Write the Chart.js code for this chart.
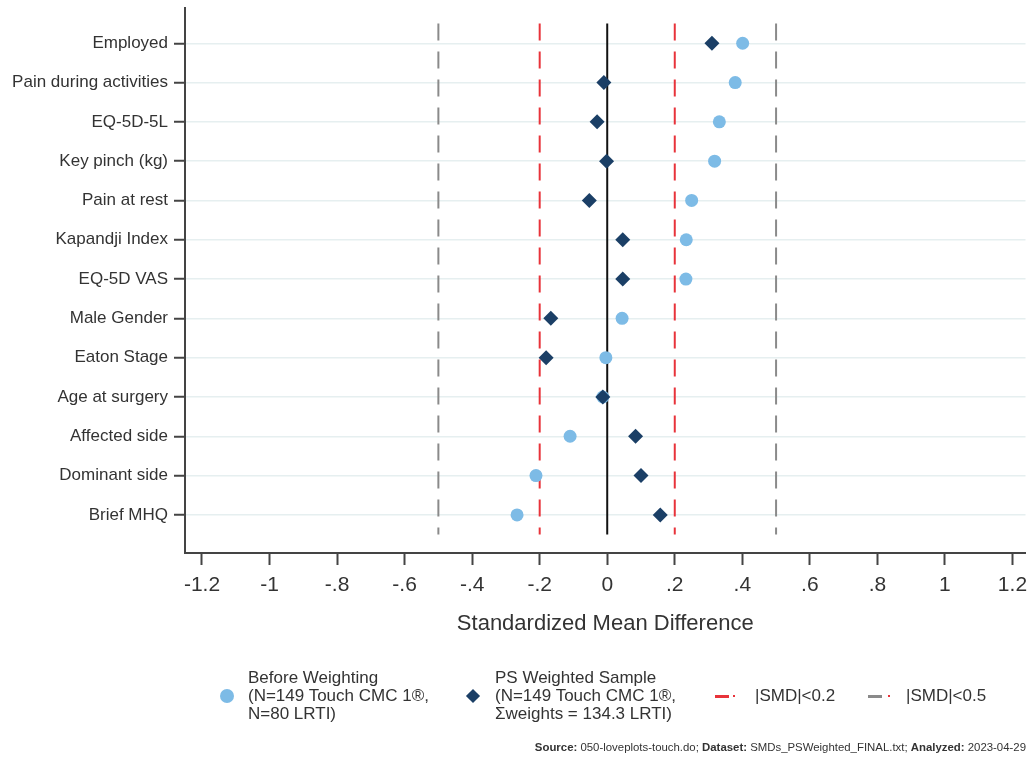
<!DOCTYPE html>
<html>
<head>
<meta charset="utf-8">
<script src="https://cdn.jsdelivr.net/npm/chart.js@4"></script>
<style>
  body { margin: 0; background: #fff; font-family: "Liberation Sans", Arial, sans-serif; color: #333; }
  #wrap { position: relative; width: 1033px; height: 768px; }
  #loveplot { position: absolute; left: 0; top: 0; }
  .leg { position: absolute; font-size: 17px; line-height: 18px; color: #333; white-space: nowrap; }
  .key { position: absolute; }
  #source { position: absolute; right: 7px; top: 741px; font-size: 11.4px; color: #333; white-space: nowrap; }
</style>
</head>
<body>
<div id="wrap">
  <canvas id="loveplot" width="1033" height="768"></canvas>

  <!-- legend -->
  <div class="key" style="left:220px;top:689px;width:14px;height:14px;border-radius:50%;background:#7dbbe6;"></div>
  <div class="leg" style="left:248px;top:669px;">Before Weighting<br>(N=149 Touch CMC 1®,<br>N=80 LRTI)</div>
  <div class="key" style="left:468px;top:691px;width:10px;height:10px;background:#1b3f66;transform:rotate(45deg);"></div>
  <div class="leg" style="left:495px;top:669px;">PS Weighted Sample<br>(N=149 Touch CMC 1®,<br>Σweights = 134.3 LRTI)</div>
  <div class="key" style="left:715px;top:695px;width:14px;height:3px;background:#e8333a;"></div>
  <div class="key" style="left:733px;top:695px;width:2px;height:2px;background:#e8333a;"></div>
  <div class="leg" style="left:755px;top:687px;">|SMD|&lt;0.2</div>
  <div class="key" style="left:868px;top:695px;width:14px;height:3px;background:#8a8a8a;"></div>
  <div class="key" style="left:888px;top:695px;width:2px;height:2px;background:#e8333a;"></div>
  <div class="leg" style="left:906px;top:687px;">|SMD|&lt;0.5</div>

  <div id="source"><b>Source:</b> 050-loveplots-touch.do; <b>Dataset:</b> SMDs_PSWeighted_FINAL.txt; <b>Analyzed:</b> 2023-04-29</div>
</div>

<script>
// covariates, top to bottom
const categories = ["Employed", "Pain during activities", "EQ-5D-5L", "Key pinch (kg)", "Pain at rest",
  "Kapandji Index", "EQ-5D VAS", "Male Gender", "Eaton Stage", "Age at surgery",
  "Affected side", "Dominant side", "Brief MHQ"];

// standardized mean differences
const beforeWeighting = [0.401, 0.379, 0.332, 0.318, 0.250, 0.234, 0.233, 0.044, -0.004, -0.013, -0.110, -0.211, -0.267];
const psWeighted = [0.310, -0.010, -0.030, -0.002, -0.053, 0.046, 0.046, -0.167, -0.181, -0.013, 0.084, 0.100, 0.157];

// reference lines
const smallThresh = [-0.2, 0.2];
const largeThresh = [-0.5, 0.5];

// x axis ticks
const xTickValues = [-1.2, -1, -0.8, -0.6, -0.4, -0.2, 0, 0.2, 0.4, 0.6, 0.8, 1, 1.2];
const xTickLabels = ["-1.2", "-1", "-.8", "-.6", "-.4", "-.2", "0", ".2", ".4", ".6", ".8", "1", "1.2"];

const FONT = "'Liberation Sans', Arial, sans-serif";

function vline(x, color, dash) {
  return {
    type: "line",
    data: [{ x: x, y: 0.5 }, { x: x, y: 13.5 }],
    borderColor: color,
    borderWidth: 2,
    borderDash: dash,
    pointRadius: 0,
    showLine: true,
    fill: false
  };
}

const datasets = [
  {
    label: "PS Weighted Sample",
    data: psWeighted.map((v, i) => ({ x: v, y: i + 1 })),
    pointStyle: "rectRot",
    pointRadius: 7.5,
    backgroundColor: "#1b3f66",
    borderColor: "#1b3f66",
    borderWidth: 0
  },
  {
    label: "Before Weighting",
    data: beforeWeighting.map((v, i) => ({ x: v, y: i + 1 })),
    pointStyle: "circle",
    pointRadius: 6.5,
    backgroundColor: "#7dbbe6",
    borderColor: "#7dbbe6",
    borderWidth: 0
  },
  vline(0, "#111", [])
];
smallThresh.forEach(t => datasets.push(vline(t, "#e8333a", [17, 11])));
largeThresh.forEach(t => datasets.push(vline(t, "#8a8a8a", [17, 11])));

new Chart(document.getElementById("loveplot"), {
  type: "scatter",
  data: { datasets: datasets },
  options: {
    responsive: false,
    devicePixelRatio: 1,
    animation: false,
    layout: { padding: { top: 7, right: 0, bottom: 128, left: 0 } },
    plugins: {
      legend: { display: false },
      tooltip: { enabled: false }
    },
    scales: {
      x: {
        type: "linear",
        min: -1.2503,
        max: 1.2386,
        afterBuildTicks: s => { s.ticks = xTickValues.map(v => ({ value: v })); },
        afterFit: s => { s.height = 87; s.paddingLeft = 0; s.paddingRight = 0; },
        ticks: {
          autoSkip: false,
          maxRotation: 0,
          padding: 8,
          color: "#333",
          font: { family: FONT, size: 21 },
          callback: (v, i) => xTickLabels[i]
        },
        grid: { drawOnChartArea: false, tickLength: 12, tickColor: "#444", tickWidth: 2 },
        border: { display: true, color: "#444", width: 2 },
        title: {
          display: true,
          text: "Standardized Mean Difference",
          color: "#333",
          font: { family: FONT, size: 22 },
          padding: { top: 0, bottom: 3 }
        }
      },
      y: {
        type: "linear",
        reverse: true,
        min: 0.09,
        max: 13.97,
        afterBuildTicks: s => { s.ticks = categories.map((c, i) => ({ value: i + 1 })); },
        afterFit: s => { s.width = 185; s.paddingTop = 0; s.paddingBottom = 0; },
        ticks: {
          autoSkip: false,
          padding: 6,
          color: "#333",
          font: { family: FONT, size: 17 },
          callback: v => categories[v - 1]
        },
        grid: { color: "#e6eff0", lineWidth: 1.5, tickLength: 11, tickColor: "#444", tickWidth: 2 },
        border: { display: true, color: "#444", width: 2 }
      }
    }
  }
});
</script>
</body>
</html>
